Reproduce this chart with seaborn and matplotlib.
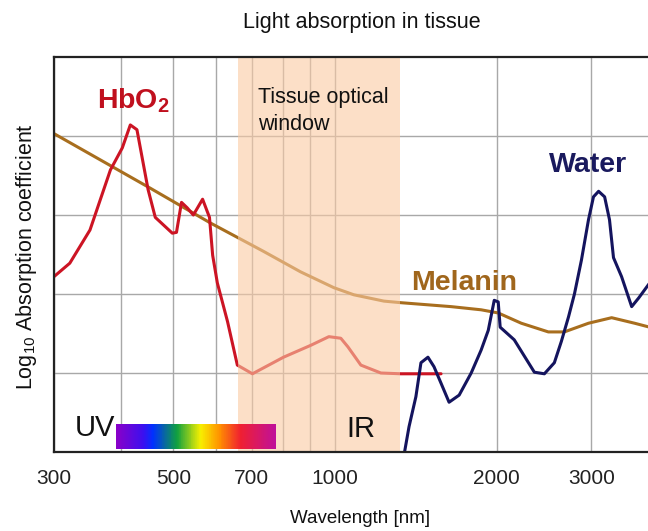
import numpy as np
import pandas as pd
import matplotlib
matplotlib.use("Agg")
import matplotlib.pyplot as plt
from matplotlib.colors import LinearSegmentedColormap, Normalize
import seaborn as sns

# ---------------- data ----------------
hb_nm = [300, 321, 350, 382, 402, 416, 428, 449, 463, 498, 507, 518, 531, 545,
         567, 584, 592, 604, 631, 658, 702, 802, 901, 974, 1025, 1057, 1117,
         1217, 1326, 1575]
hb_val = [2.22, 2.39, 2.81, 3.57, 3.85, 4.14, 4.08, 3.32, 2.97, 2.77, 2.78, 3.16,
          3.09, 3.00, 3.20, 2.97, 2.49, 2.14, 1.65, 1.10, 0.99, 1.20, 1.35, 1.46,
          1.44, 1.33, 1.10, 1.00, 0.99, 0.99]

mel_nm = [300, 453, 586, 736, 863, 995, 1084, 1233, 1326, 1645, 1870, 2012,
          2221, 2494, 2671, 2962, 3271, 3609, 3850, 4200]
mel_val = [4.03, 3.34, 2.90, 2.54, 2.28, 2.08, 1.99, 1.91, 1.89, 1.84, 1.80,
           1.76, 1.63, 1.52, 1.52, 1.63, 1.70, 1.63, 1.58, 1.52]

water_nm = [1343, 1373, 1414, 1445, 1489, 1528, 1575, 1630, 1702, 1792, 1870,
            1928, 1978, 2012, 2029, 2155, 2349, 2452, 2559, 2637, 2719, 2789,
            2874, 2962, 3026, 3093, 3174, 3241, 3297, 3413, 3564, 3673, 3850, 4200]
water_val = [-0.05, 0.32, 0.70, 1.13, 1.20, 1.08, 0.87, 0.63, 0.72, 1.00, 1.29,
             1.54, 1.92, 1.90, 1.58, 1.42, 1.01, 0.99, 1.13, 1.40, 1.71, 2.00,
             2.43, 2.94, 3.23, 3.30, 3.23, 2.94, 2.46, 2.22, 1.84, 1.95, 2.14, 2.45]

window_nm = [660, 1322]
visible_nm = [392, 440, 458, 508, 562, 610, 667, 775]
visible_colors = ["#8A00C8", "#3A10F0", "#0030FF", "#10A040", "#F8F000",
                  "#FF9000", "#F02030", "#C0109A"]

xtick_vals = [300, 500, 700, 1000, 2000, 3000]
xminor_vals = [400, 600, 800, 900]
ygrid_vals = [1, 2, 3, 4]

# ---------------- style ----------------
sns.set_theme(style="white")
plt.rcParams["font.family"] = ["Liberation Sans", "DejaVu Sans"]
plt.rcParams["mathtext.fontset"] = "custom"
plt.rcParams["mathtext.rm"] = "Liberation Sans"
plt.rcParams["mathtext.bf"] = "Liberation Sans:bold"
plt.rcParams["mathtext.it"] = "Liberation Sans:italic"
plt.rcParams["lines.solid_joinstyle"] = "round"
plt.rcParams["lines.solid_capstyle"] = "round"

RED = "#CC1424"
BROWN = "#A86E1E"
NAVY = "#14145E"

fig = plt.figure(figsize=(6.48, 5.31), dpi=100)
ax = fig.add_axes([54 / 648, 79 / 531, 616 / 648, 395 / 531])

hb = pd.DataFrame({"nm": hb_nm, "v": hb_val})
mel = pd.DataFrame({"nm": mel_nm, "v": mel_val})
wat = pd.DataFrame({"nm": water_nm, "v": water_val})

sns.lineplot(data=mel, x="nm", y="v", ax=ax, color=BROWN, lw=2.2, sort=False,
             estimator=None, zorder=2)
sns.lineplot(data=hb, x="nm", y="v", ax=ax, color=RED, lw=2.2, sort=False,
             estimator=None, zorder=2)
sns.lineplot(data=wat, x="nm", y="v", ax=ax, color=NAVY, lw=2.2, sort=False,
             estimator=None, zorder=2)

ax.set_xscale("log")
ax.set_xlim(300, 4200)
ax.set_ylim(0, 5)

# tissue optical window (translucent overlay)
ax.axvspan(window_nm[0], window_nm[1], color="#FACBA3", alpha=0.6, lw=0, zorder=3)

# visible spectrum bar
pos = [(np.log10(w) - np.log10(visible_nm[0])) /
       (np.log10(visible_nm[-1]) - np.log10(visible_nm[0])) for w in visible_nm]
cmap = LinearSegmentedColormap.from_list("vis", list(zip(pos, visible_colors)))
edges = np.geomspace(visible_nm[0], visible_nm[-1], 241)
centers = np.sqrt(edges[:-1] * edges[1:])
ax.pcolormesh(edges, [0.04, 0.355], np.log10(centers)[None, :], cmap=cmap,
              norm=Normalize(np.log10(visible_nm[0]), np.log10(visible_nm[-1])),
              shading="flat", zorder=5)

# grid and ticks
ax.set_xticks(xtick_vals)
ax.set_xticklabels([str(v) for v in xtick_vals])
ax.set_xticks(xminor_vals, minor=True)
ax.xaxis.set_minor_formatter(matplotlib.ticker.NullFormatter())
ax.set_yticks(ygrid_vals)
ax.set_yticklabels([])
ax.grid(True, which="both", axis="x", color="#A8A8A8", lw=1.0)
ax.grid(True, which="major", axis="y", color="#A8A8A8", lw=1.0)
ax.set_axisbelow(True)
ax.tick_params(axis="both", which="both", length=0)
ax.tick_params(axis="x", labelsize=15, pad=12, colors="#222222")

for side in ["left", "bottom", "top"]:
    ax.spines[side].set_visible(True)
    ax.spines[side].set_color("#222222")
    ax.spines[side].set_linewidth(1.6)
    ax.spines[side].set_zorder(4)
ax.spines["right"].set_visible(False)

# labels
ax.set_title("Light absorption in tissue", fontsize=15.5, pad=21, color="#111111")
ax.set_xlabel("Wavelength [nm]", fontsize=13.5, color="#111111")
ax.xaxis.set_label_coords(0.497, -0.148)
ax.set_ylabel("Log$_{10}$ Absorption coefficient", fontsize=15.5, color="#111111")
ax.yaxis.set_label_coords(-0.025, 0.494)

# annotations
ax.text(361, 4.35, r"$\mathbf{HbO_2}$", color="#C0101E", fontsize=20.5,
        va="baseline", ha="left", zorder=6)
ax.text(1385, 2.05, "Melanin", color="#A0661C", fontsize=20.5, fontweight="bold",
        va="baseline", ha="left", zorder=6)
ax.text(2505, 3.54, "Water", color="#1A1A5E", fontsize=20.5, fontweight="bold",
        va="baseline", ha="left", zorder=6)
ax.text(718, 4.42, "Tissue optical", color="#111111", fontsize=15.5,
        va="baseline", ha="left", zorder=6)
ax.text(718, 4.08, "window", color="#111111", fontsize=15.5,
        va="baseline", ha="left", zorder=6)
ax.text(328, 0.2, "UV", color="#111111", fontsize=21, va="baseline", ha="left",
        zorder=6)
ax.text(1048, 0.19, "IR", color="#111111", fontsize=21, va="baseline", ha="left",
        zorder=6)

fig.savefig("out.png", dpi=100)
